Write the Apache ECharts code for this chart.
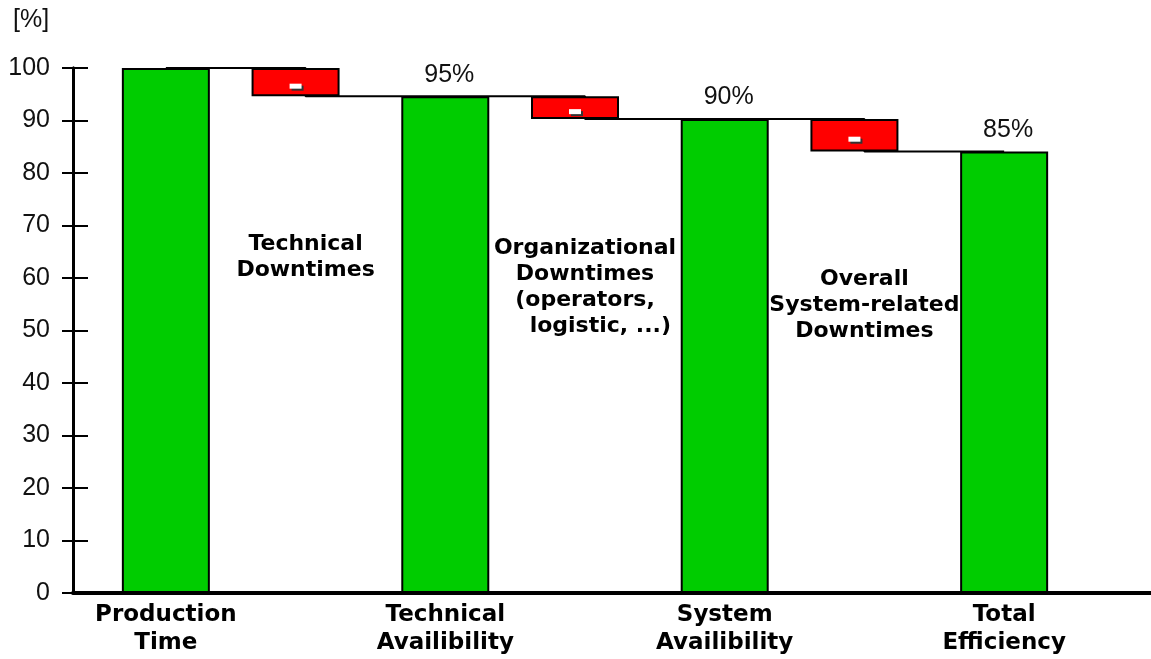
<!DOCTYPE html>
<html>
<head>
    <meta charset="utf-8">
    <title>Efficiency waterfall</title>
    <script src="https://cdn.jsdelivr.net/npm/echarts@6/dist/echarts.min.js"></script>
    <style>
        html, body { margin: 0; padding: 0; background: #fff; }
    </style>
</head>
<body>
<div id="main" style="width: 1151px;height:659px;"></div>
<script type="text/javascript">
    // categories, in order along the x axis
    var categories = [
        'Production\nTime',
        'Technical\nDowntimes',
        'Technical\nAvailibility',
        'Organizational\nDowntimes\n(operators,\n    logistic, ...)',
        'System\nAvailibility',
        'Overall\nSystem-related\nDowntimes',
        'Total\nEfficiency'
    ];
    // green columns (remaining time) and red boxes (losses), '-' = empty
    var remaining = [100, '-', 94.6, '-', 90.3, '-', 84.1];
    var losses    = ['-', 5.4, '-', 4.3, '-', 6.2, '-'];
    // printed value labels above the green columns
    var pctLabels = ['', '', '95%', '', '90%', '', '85%'];
    var yTicks = [0, 10, 20, 30, 40, 50, 60, 70, 80, 90, 100];

    // invisible base under each red box = level after the loss
    var base = [];
    var level = 100;
    for (var i = 0; i < categories.length; i++) {
        if (losses[i] !== '-') {
            level = level - losses[i];
            base.push(level);
        } else {
            level = remaining[i];
            base.push('-');
        }
    }

    // step line that joins the column tops to the loss boxes
    var steps = [];
    var cur = remaining[0];
    steps.push([0, cur]);
    for (var j = 1; j < categories.length; j++) {
        if (losses[j] !== '-') {
            steps.push([j, cur]);
            cur = base[j];
            steps.push([j, cur]);
        }
    }
    steps.push([categories.length - 1, cur]);

    // text offsets of the loss descriptions (x, y below the base top)
    var midDy = { 1: 130, 3: 111, 5: 110 };

    var baseData = base.map(function (v, k) {
        if (v === '-') return '-';
        return { value: v, label: { show: true, offset: [10, midDy[k]] } };
    });

    var myChart = echarts.init(document.getElementById('main'));

    var catAxis = function (idx, showLabels) {
        return {
            type: 'category',
            gridIndex: idx,
            data: categories,
            axisLine: { show: false },
            axisTick: { show: false },
            axisLabel: {
                show: showLabels,
                interval: 1,
                margin: 8,
                color: '#000',
                fontFamily: 'DejaVu Sans',
                fontWeight: 'bold',
                fontSize: 23,
                lineHeight: 28
            }
        };
    };

    var option = {
        animation: false,
        title: {
            text: '[%]',
            left: 8,
            top: 3,
            textStyle: { fontFamily: 'Liberation Sans, Arial', fontWeight: 'normal', fontSize: 25, color: '#111' }
        },
        grid: [
            { left: 96, right: 77, top: 68, bottom: 66 },   // green columns
            { left: 73, right: 0, top: 68, bottom: 66 },    // axis frame
            { left: 86, right: 87, top: 68, bottom: 66 },   // red loss boxes (sit a little left)
            { left: 73, right: 0, top: 68, bottom: 66 }     // inner half of the y ticks
        ],
        xAxis: [
            catAxis(0, true),
            {
                type: 'value',
                gridIndex: 1,
                min: 0,
                max: 1,
                axisLine: { show: true, lineStyle: { color: '#000', width: 4 } },
                axisTick: { show: false },
                axisLabel: { show: false },
                splitLine: { show: false }
            },
            catAxis(2, false),
            { type: 'value', gridIndex: 3, min: 0, max: 1, show: false }
        ],
        yAxis: [
            { type: 'value', gridIndex: 0, min: 0, max: 100, show: false },
            {
                type: 'value',
                gridIndex: 1,
                min: 0,
                max: 100,
                interval: 10,
                axisLine: { show: true, lineStyle: { color: '#000', width: 3 } },
                axisTick: { show: true, length: 11, lineStyle: { color: '#000', width: 2 } },
                axisLabel: {
                    margin: 23,
                    color: '#111',
                    fontFamily: 'Liberation Sans, Arial',
                    fontSize: 25,
                    formatter: function (v) { return yTicks.indexOf(v) >= 0 ? String(v) : ''; }
                },
                splitLine: { show: false }
            },
            { type: 'value', gridIndex: 2, min: 0, max: 100, show: false },
            {
                type: 'value',
                gridIndex: 3,
                min: 0,
                max: 100,
                interval: 10,
                axisLine: { show: true, lineStyle: { color: '#000', width: 3 } },
                axisTick: { show: true, inside: true, length: 15, lineStyle: { color: '#000', width: 2 } },
                axisLabel: { show: false },
                splitLine: { show: false }
            }
        ],
        series: [
            {
                name: 'steps',
                type: 'line',
                xAxisIndex: 0,
                yAxisIndex: 0,
                data: steps,
                z: 1,
                showSymbol: false,
                lineStyle: { color: '#000', width: 2 },
                silent: true
            },
            {
                name: 'remaining',
                type: 'bar',
                xAxisIndex: 0,
                yAxisIndex: 0,
                barWidth: 88,
                z: 3,
                itemStyle: { color: '#00cc00', borderColor: '#000', borderWidth: 2 },
                label: {
                    show: true,
                    position: 'top',
                    distance: 9,
                    offset: [4, 0],
                    color: '#111',
                    fontFamily: 'Liberation Sans, Arial',
                    fontSize: 25,
                    formatter: function (p) { return pctLabels[p.dataIndex]; }
                },
                data: remaining
            },
            {
                name: 'base',
                type: 'bar',
                stack: 'wf',
                xAxisIndex: 2,
                yAxisIndex: 2,
                barWidth: 88,
                z: 3,
                itemStyle: { color: 'transparent' },
                label: {
                    position: 'insideTop',
                    formatter: function (p) { return p.name; },
                    color: '#000',
                    fontFamily: 'DejaVu Sans',
                    fontWeight: 'bold',
                    fontSize: 22,
                    lineHeight: 26,
                    align: 'center'
                },
                data: baseData
            },
            {
                name: 'losses',
                type: 'bar',
                stack: 'wf',
                xAxisIndex: 2,
                yAxisIndex: 2,
                barWidth: 88,
                z: 3,
                itemStyle: { color: '#ff0000', borderColor: '#000', borderWidth: 2 },
                label: {
                    show: true,
                    position: 'inside',
                    offset: [0, 4],
                    formatter: '{m|}',
                    rich: {
                        m: {
                            width: 12,
                            height: 5,
                            backgroundColor: '#fff',
                            shadowColor: '#333',
                            shadowOffsetX: 2,
                            shadowOffsetY: 2,
                            shadowBlur: 0
                        }
                    }
                },
                data: losses
            }
        ]
    };
    myChart.setOption(option);
</script>
</body>
</html>
